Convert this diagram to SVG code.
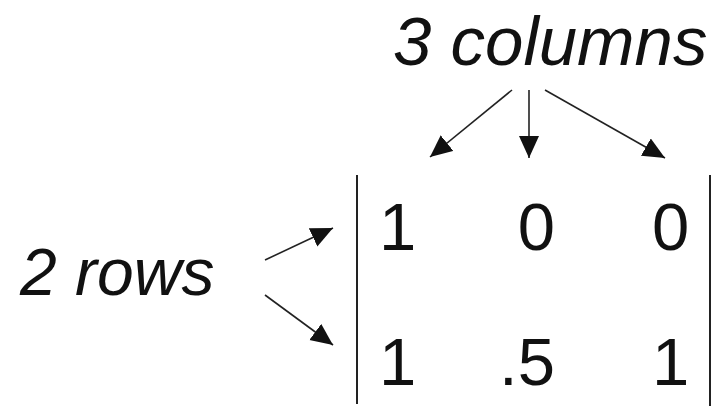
<svg xmlns="http://www.w3.org/2000/svg" width="720" height="417" viewBox="0 0 720 417">
<style>
.lbl{font-family:"Liberation Sans",Arial,sans-serif;font-style:italic;font-size:66px;fill:#111}
.num{font-family:"Liberation Sans",Arial,sans-serif;font-size:67px;fill:#111}
.conn{stroke:#222;stroke-width:1.6;fill:none;marker-end:url(#ah)}
.bar{stroke:#222;stroke-width:2;fill:none}
</style>
<defs>
<marker id="ah" markerUnits="userSpaceOnUse" markerWidth="24" markerHeight="24" refX="22" refY="10" orient="auto">
<path d="M0,0 L22,10 L0,20 Z" fill="#111"/>
</marker>
</defs>
<rect width="720" height="417" fill="#fff"/>
<g id="columns-label"><text class="lbl" x="393" y="65" style="font-size:69px">3 columns</text></g>
<g id="rows-label"><text class="lbl" x="20" y="295">2 rows</text></g>
<g id="matrix">
<line class="bar" x1="357" y1="175" x2="357" y2="404"/>
<line class="bar" x1="710" y1="175" x2="710" y2="406"/>
<text class="num" x="379" y="250">1</text>
<text class="num" x="555" y="250" text-anchor="end">0</text>
<text class="num" x="652" y="250">0</text>
<text class="num" x="379" y="385">1</text>
<text class="num" x="555" y="385" text-anchor="end">.5</text>
<text class="num" x="652" y="385">1</text>
</g>
<g id="connectors">
<line class="conn" x1="512" y1="90" x2="430" y2="157"/>
<line class="conn" x1="529" y1="90" x2="529" y2="158"/>
<line class="conn" x1="545" y1="90" x2="665" y2="158"/>
<line class="conn" x1="265" y1="260" x2="333" y2="228"/>
<line class="conn" x1="265" y1="295" x2="333" y2="345"/>
</g>
</svg>
